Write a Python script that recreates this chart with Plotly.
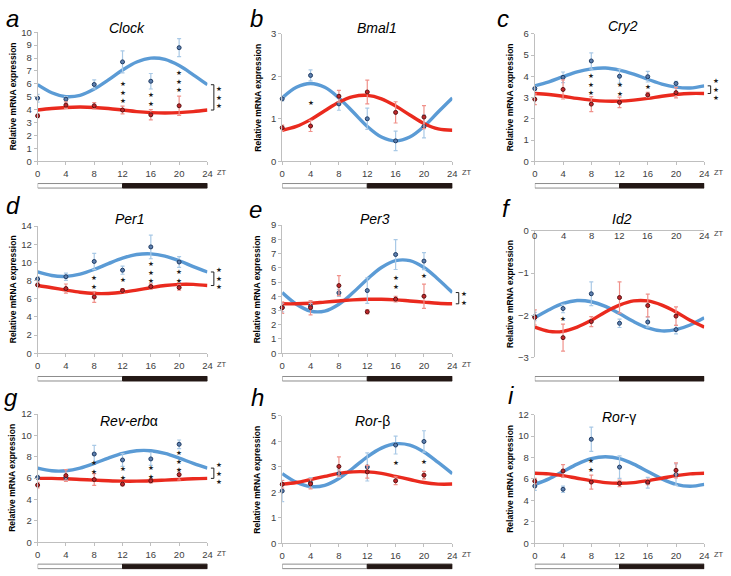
import plotly.graph_objects as go

W, H = 731, 576

# sampling times (ZT hours)
zt = [0, 4, 8, 12, 16, 20]
zt_fit = [0, 2, 4, 6, 8, 10, 12, 14, 16, 18, 20, 22, 24]
zt_ticks = [0, 4, 8, 12, 16, 20, 24]

# a  Clock
clock_blue = [4.89, 4.81, 5.95, 7.70, 6.20, 8.80]
clock_blue_err = [0.30, 0.20, 0.35, 0.85, 0.60, 0.70]
clock_red = [3.52, 4.35, 4.30, 3.97, 3.60, 4.30]
clock_red_err = [0.15, 0.25, 0.25, 0.30, 0.40, 0.75]
clock_blue_fit = [5.93, 5.31, 5.01, 5.11, 5.59, 6.30, 7.07, 7.69, 7.99, 7.89, 7.41, 6.70, 5.93]
clock_red_fit = [3.97, 4.09, 4.17, 4.20, 4.17, 4.09, 3.97, 3.85, 3.77, 3.74, 3.77, 3.85, 3.97]
clock_stars = [0, 0, 0, 3, 2, 3]
clock_overall = 3

# b  Bmal1
bmal1_blue = [1.47, 2.02, 1.35, 1.00, 0.48, 0.82]
bmal1_blue_err = [0.05, 0.13, 0.15, 0.25, 0.23, 0.27]
bmal1_red = [0.79, 0.83, 1.53, 1.63, 1.15, 1.04]
bmal1_red_err = [0.06, 0.13, 0.14, 0.28, 0.25, 0.27]
bmal1_blue_fit = [1.49, 1.74, 1.83, 1.74, 1.49, 1.16, 0.82, 0.57, 0.48, 0.57, 0.82, 1.16, 1.49]
bmal1_red_fit = [0.73, 0.82, 0.98, 1.19, 1.39, 1.52, 1.55, 1.47, 1.30, 1.09, 0.89, 0.76, 0.73]
bmal1_stars = [0, 1, 0, 0, 0, 0]
bmal1_overall = 0

# c  Cry2
cry2_blue = [3.42, 3.95, 4.72, 4.00, 3.98, 3.66]
cry2_blue_err = [0.10, 0.25, 0.38, 0.33, 0.25, 0.10]
cry2_red = [2.92, 3.38, 2.69, 2.77, 3.12, 3.23]
cry2_red_err = [0.25, 0.45, 0.35, 0.25, 0.12, 0.25]
cry2_blue_fit = [3.55, 3.74, 3.98, 4.21, 4.35, 4.39, 4.29, 4.10, 3.86, 3.63, 3.49, 3.45, 3.55]
cry2_red_fit = [3.19, 3.14, 3.06, 2.96, 2.88, 2.83, 2.83, 2.88, 2.96, 3.06, 3.14, 3.19, 3.19]
cry2_stars = [0, 0, 3, 2, 1, 0]
cry2_overall = 3

# d  Per1
per1_blue = [8.17, 8.42, 10.10, 9.14, 11.70, 10.04]
per1_blue_err = [0.25, 0.40, 0.90, 0.45, 1.30, 0.60]
per1_red = [7.52, 7.12, 6.19, 6.90, 7.34, 7.23]
per1_red_err = [0.30, 0.50, 0.60, 0.20, 0.30, 0.30]
per1_blue_fit = [8.94, 8.55, 8.46, 8.71, 9.22, 9.86, 10.46, 10.86, 10.94, 10.69, 10.18, 9.54, 8.94]
per1_red_fit = [7.45, 7.21, 6.95, 6.71, 6.58, 6.58, 6.71, 6.95, 7.21, 7.45, 7.58, 7.58, 7.45]
per1_stars = [0, 0, 2, 1, 3, 2]
per1_overall = 3

# e  Per3
per3_blue = [3.21, 3.30, 4.24, 4.40, 6.93, 6.47]
per3_blue_err = [0.30, 0.20, 0.25, 0.90, 1.05, 0.60]
per3_red = [3.20, 3.20, 4.75, 2.91, 3.80, 4.00]
per3_red_err = [0.40, 0.50, 0.70, 0.15, 0.20, 0.85]
per3_blue_fit = [4.26, 3.44, 2.96, 2.96, 3.44, 4.26, 5.20, 6.02, 6.50, 6.50, 6.02, 5.20, 4.26]
per3_red_fit = [3.47, 3.47, 3.51, 3.59, 3.67, 3.75, 3.79, 3.79, 3.75, 3.67, 3.59, 3.51, 3.47]
per3_stars = [0, 0, 0, 0, 2, 1]
per3_overall = 2

# f  Id2
id2_blue = [-2.03, -1.84, -1.49, -2.19, -2.16, -2.34]
id2_blue_err = [0.10, 0.10, 0.28, 0.10, 0.12, 0.10]
id2_red = [-2.05, -2.53, -2.15, -1.58, -1.77, -2.02]
id2_red_err = [0.18, 0.32, 0.12, 0.37, 0.27, 0.22]
id2_blue_fit = [-2.06, -1.87, -1.72, -1.65, -1.68, -1.79, -1.96, -2.15, -2.30, -2.37, -2.34, -2.23, -2.06]
id2_red_fit = [-2.28, -2.38, -2.38, -2.28, -2.12, -1.92, -1.76, -1.66, -1.66, -1.76, -1.92, -2.12, -2.28]
id2_stars = [0, 1, 0, 0, 0, 0]
id2_overall = 0

# g  Rev-erb alpha
reverba_blue = [6.06, 6.06, 8.26, 7.70, 7.80, 9.17]
reverba_blue_err = [0.20, 0.25, 0.80, 0.60, 0.60, 0.40]
reverba_red = [5.35, 6.24, 5.87, 5.44, 5.75, 6.33]
reverba_red_err = [0.25, 0.55, 0.55, 0.15, 0.20, 0.50]
reverba_blue_fit = [6.94, 6.69, 6.69, 6.94, 7.38, 7.88, 8.32, 8.57, 8.57, 8.32, 7.88, 7.38, 6.94]
reverba_red_fit = [5.98, 5.98, 5.94, 5.88, 5.82, 5.76, 5.72, 5.72, 5.76, 5.82, 5.88, 5.94, 5.98]
reverba_stars = [0, 0, 2, 2, 2, 3]
reverba_overall = 3

# h  Ror-beta
rorb_blue = [2.05, 2.37, 2.73, 2.99, 3.85, 3.99]
rorb_blue_err = [0.42, 0.20, 0.15, 0.55, 0.35, 0.42]
rorb_red = [2.31, 2.33, 3.01, 2.80, 2.45, 2.67]
rorb_red_err = [0.15, 0.20, 0.38, 0.25, 0.15, 0.15]
rorb_blue_fit = [2.73, 2.39, 2.22, 2.27, 2.54, 2.95, 3.39, 3.73, 3.90, 3.85, 3.58, 3.17, 2.73]
rorb_red_fit = [2.32, 2.38, 2.50, 2.62, 2.74, 2.80, 2.80, 2.74, 2.62, 2.50, 2.38, 2.32, 2.32]
rorb_stars = [0, 0, 0, 0, 1, 1]
rorb_overall = 0

# i  Ror-gamma
rorg_blue = [5.34, 5.04, 9.71, 7.11, 5.65, 6.41]
rorg_blue_err = [0.40, 0.30, 1.13, 1.05, 0.50, 1.00]
rorg_red = [5.80, 6.75, 5.71, 5.59, 5.71, 6.81]
rorg_red_err = [0.25, 0.60, 0.65, 0.30, 0.25, 0.70]
rorg_blue_fit = [5.50, 6.01, 6.70, 7.39, 7.90, 8.08, 7.90, 7.39, 6.70, 6.01, 5.50, 5.32, 5.50]
rorg_red_fit = [6.54, 6.48, 6.31, 6.07, 5.84, 5.66, 5.60, 5.66, 5.84, 6.07, 6.31, 6.48, 6.54]
rorg_stars = [0, 0, 2, 0, 0, 0]
rorg_overall = 0

# colours
BLUE_LINE = "#5b9bd5"
RED_LINE = "#ea2a1e"
BLUE_PT = "#5d7fae"
BLUE_EDGE = "#1f3b63"
RED_PT = "#c0272b"
RED_EDGE = "#5c1212"
BLUE_ERR = "#a9c9e6"
RED_ERR = "#f0918a"
AXIS = "#bfbfbf"
TICK_TXT = "#404040"
FONT = "Liberation Sans, Arial, sans-serif"


def px(x):
    return x / W


def py(y):
    return 1 - y / H


# layout of each panel in page pixels: plot box, title centre, letter centre,
# y of the light/dark bar and the y positions of the top star at each ZT
panels = [
    dict(letter="a", title="<i>Clock</i>", data=(clock_blue, clock_blue_err, clock_red, clock_red_err,
         clock_blue_fit, clock_red_fit, clock_stars, clock_overall),
         yrange=[0, 10], dtick=1, box=(35, 26.7, 206.7, 158.3), title_at=(125.7, 22), letter_at=(10, 13),
         bar_y=183.3, star_top=[None, None, None, 6.0, 5.1, 6.8]),
    dict(letter="b", title="<i>Bmal1</i>", data=(bmal1_blue, bmal1_blue_err, bmal1_red, bmal1_red_err,
         bmal1_blue_fit, bmal1_red_fit, bmal1_stars, bmal1_overall),
         yrange=[0, 3], dtick=1, box=(282.3, 28.3, 454.3, 158.3), title_at=(378.3, 22.7), letter_at=(256, 13),
         bar_y=183.3, star_top=[None, 1.37, None, None, None, None]),
    dict(letter="c", title="<i>Cry2</i>", data=(cry2_blue, cry2_blue_err, cry2_red, cry2_red_err,
         cry2_blue_fit, cry2_red_fit, cry2_stars, cry2_overall),
         yrange=[0, 6], dtick=1, box=(537.7, 28.3, 709, 158.3), title_at=(626.7, 20.7), letter_at=(506, 13),
         bar_y=183.3, star_top=[None, None, 4.03, 3.57, 3.5, None]),
    dict(letter="d", title="<i>Per1</i>", data=(per1_blue, per1_blue_err, per1_red, per1_red_err,
         per1_blue_fit, per1_red_fit, per1_stars, per1_overall),
         yrange=[0, 14], dtick=2, box=(35, 224.3, 206.7, 354), title_at=(128.3, 216.7), letter_at=(10, 203),
         bar_y=380, star_top=[None, None, 8.2, 8.1, 9.8, 8.9]),
    dict(letter="e", title="<i>Per3</i>", data=(per3_blue, per3_blue_err, per3_red, per3_red_err,
         per3_blue_fit, per3_red_fit, per3_stars, per3_overall),
         yrange=[0, 9], dtick=1, box=(282.3, 223.3, 454.3, 354), title_at=(375.7, 217), letter_at=(255.5, 207),
         bar_y=380, star_top=[None, None, None, None, 5.25, 5.45]),
    dict(letter="f", title="<i>Id2</i>", data=(id2_blue, id2_blue_err, id2_red, id2_red_err,
         id2_blue_fit, id2_red_fit, id2_stars, id2_overall),
         yrange=[-3, 0], dtick=1, box=(537.7, 229.3, 709, 358.3), title_at=(625.7, 217), letter_at=(509.5, 206),
         bar_y=380, star_top=[None, -2.09, None, None, None, None]),
    dict(letter="g", title="<i>Rev-erb</i>α", data=(reverba_blue, reverba_blue_err, reverba_red, reverba_red_err,
         reverba_blue_fit, reverba_red_fit, reverba_stars, reverba_overall),
         yrange=[0, 12], dtick=2, box=(35, 416, 206.7, 546.7), title_at=(127, 422.7), letter_at=(8.3, 399),
         bar_y=571.3, star_top=[None, None, 7.43, 6.82, 6.97, 8.38]),
    dict(letter="h", title="<i>Ror</i>-β", data=(rorb_blue, rorb_blue_err, rorb_red, rorb_red_err,
         rorb_blue_fit, rorb_red_fit, rorb_stars, rorb_overall),
         yrange=[0, 5], dtick=1, box=(282.3, 417.7, 454.3, 547.7), title_at=(374, 422.7), letter_at=(257.5, 399),
         bar_y=571.3, star_top=[None, None, None, None, 3.14, 3.2]),
    dict(letter="i", title="<i>Ror</i>-γ", data=(rorg_blue, rorg_blue_err, rorg_red, rorg_red_err,
         rorg_blue_fit, rorg_red_fit, rorg_stars, rorg_overall),
         yrange=[0, 12], dtick=2, box=(537.7, 416.7, 709, 547.7), title_at=(623.3, 419.3), letter_at=(514, 397.5),
         bar_y=571.3, star_top=[None, None, 7.66, None, None, None]),
]

STAR_SIZE = 6.6
STAR_LINE = 1.3 * STAR_SIZE  # plotly's line spacing for <br>
STAR_FONT = dict(family="DejaVu Sans", size=STAR_SIZE, color="#1e1e1e")

fig = go.Figure()
layout = dict(
    width=W, height=H,
    margin=dict(l=0, r=0, t=0, b=0),
    paper_bgcolor="white", plot_bgcolor="white",
    showlegend=False,
    font=dict(family=FONT, size=9.5, color=TICK_TXT),
)
shapes = []
annotations = []

for n, p in enumerate(panels, start=1):
    sfx = "" if n == 1 else str(n)
    xa, ya = "x" + sfx, "y" + sfx
    blue, blue_err, red, red_err, blue_fit, red_fit, stars, overall = p["data"]
    x0, y0, x1, y1 = p["box"]
    width_px, height_px = x1 - x0, y1 - y0
    unit_y = (p["yrange"][1] - p["yrange"][0]) / height_px   # data units per pixel
    top_axis = p["yrange"][1] == 0  # Id2: all values negative, axis sits at 0 on top

    # fitted curves
    fig.add_trace(go.Scatter(x=zt_fit, y=blue_fit, mode="lines", xaxis=xa, yaxis=ya,
                             line=dict(color=BLUE_LINE, width=3.4, shape="spline"), cliponaxis=False))
    fig.add_trace(go.Scatter(x=zt_fit, y=red_fit, mode="lines", xaxis=xa, yaxis=ya,
                             line=dict(color=RED_LINE, width=3.4, shape="spline"), cliponaxis=False))
    # measured means with error bars
    fig.add_trace(go.Scatter(x=zt, y=blue, mode="markers", xaxis=xa, yaxis=ya, cliponaxis=False,
                             marker=dict(size=4, color=BLUE_PT, line=dict(color=BLUE_EDGE, width=1)),
                             error_y=dict(type="data", array=blue_err, color=BLUE_ERR, thickness=1.2, width=2)))
    fig.add_trace(go.Scatter(x=zt, y=red, mode="markers", xaxis=xa, yaxis=ya, cliponaxis=False,
                             marker=dict(size=4, color=RED_PT, line=dict(color=RED_EDGE, width=1)),
                             error_y=dict(type="data", array=red_err, color=RED_ERR, thickness=1.2, width=2)))

    # significance stars at each time point (one stacked text per time point)
    for t, count, top in zip(zt, stars, p["star_top"]):
        if count:
            annotations.append(dict(text="<br>".join(["★"] * count), xref=xa, yref=ya, x=t,
                                    y=top - (count - 1) / 2 * STAR_LINE * unit_y,
                                    showarrow=False, xanchor="center", yanchor="middle", font=STAR_FONT))

    # overall bracket between the two fitted curves
    if overall:
        top_v, bot_v = blue_fit[-1], red_fit[-1]
        bx0, bx1 = 1 + 3.5 / width_px, 1 + 6.5 / width_px
        shapes.append(dict(type="path", xref=xa + " domain", yref=ya,
                           path="M%f,%f L%f,%f L%f,%f L%f,%f" % (bx0, top_v, bx1, top_v, bx1, bot_v, bx0, bot_v),
                           line=dict(color="#222222", width=1)))
        annotations.append(dict(text="<br>".join(["★"] * overall), xref=xa + " domain", yref=ya,
                                x=1 + 11.5 / width_px, y=(top_v + bot_v) / 2,
                                showarrow=False, xanchor="center", yanchor="middle", font=STAR_FONT))

    layout["xaxis" + sfx] = dict(
        domain=[px(x0), px(x1)], range=[0, 24], anchor=ya,
        tickvals=zt_ticks, showline=True, linecolor=AXIS, linewidth=1,
        ticks="" if top_axis else "outside", ticklen=3, tickcolor=AXIS,
        showgrid=False, zeroline=False, tickfont=dict(size=9.5, color=TICK_TXT),
        side="top" if top_axis else "bottom",
        showticklabels=not top_axis,
    )
    layout["yaxis" + sfx] = dict(
        domain=[py(y1), py(y0)], range=p["yrange"], dtick=p["dtick"], anchor=xa,
        showline=True, linecolor=AXIS, linewidth=1, ticks="outside", ticklen=3, tickcolor=AXIS,
        showgrid=False, zeroline=False, tickfont=dict(size=9.5, color=TICK_TXT),
    )
    if top_axis:
        # Excel style: labels hang just under the axis line at the top
        for t in zt_ticks:
            annotations.append(dict(text=str(t), xref=xa, yref=ya, x=t, y=0, yshift=-5,
                                    showarrow=False, xanchor="center", yanchor="middle",
                                    font=dict(family=FONT, size=9.5, color=TICK_TXT)))

    # light / dark bar
    bar_top, bar_bot = py(p["bar_y"] - 2.3), py(p["bar_y"] + 2.3)
    shapes.append(dict(type="rect", xref=xa, yref="paper", x0=0, x1=12, y0=bar_bot, y1=bar_top,
                       fillcolor="white", line=dict(color="#8c8c8c", width=1)))
    shapes.append(dict(type="rect", xref=xa, yref="paper", x0=12, x1=24, y0=bar_bot, y1=bar_top,
                       fillcolor="#231815", line=dict(color="#231815", width=1)))

    # panel letter and gene name
    annotations.append(dict(text="<i>%s</i>" % p["letter"], x=px(p["letter_at"][0]), y=py(p["letter_at"][1]),
                            xref="paper", yref="paper", showarrow=False, xanchor="center", yanchor="middle",
                            font=dict(family=FONT, size=24, color="black")))
    annotations.append(dict(text=p["title"], x=px(p["title_at"][0]), y=py(p["title_at"][1]),
                            xref="paper", yref="paper", showarrow=False, xanchor="center", yanchor="middle",
                            font=dict(family=FONT, size=14, color="black")))
    # y title
    annotations.append(dict(text="<b>Relative mRNA expression</b>", textangle=-90,
                            xref=xa + " domain", yref=ya + " domain", x=0, y=0.5, xshift=-25,
                            showarrow=False, xanchor="center", yanchor="middle",
                            font=dict(family=FONT, size=8.5, color="black")))
    # ZT label
    annotations.append(dict(text="ZT", xref=xa + " domain", yref=ya + " domain", x=1, xshift=15,
                            y=1 if top_axis else 0, yshift=-3 if top_axis else -11,
                            showarrow=False, xanchor="center", yanchor="middle",
                            font=dict(family=FONT, size=7.5, color=TICK_TXT)))

layout["shapes"] = shapes
layout["annotations"] = annotations
fig.update_layout(**layout)

# drop the default page margin so the figure fills the window exactly
fig.write_html("out.html", config={"displayModeBar": False},
               post_script="document.body.style.margin='0';")
